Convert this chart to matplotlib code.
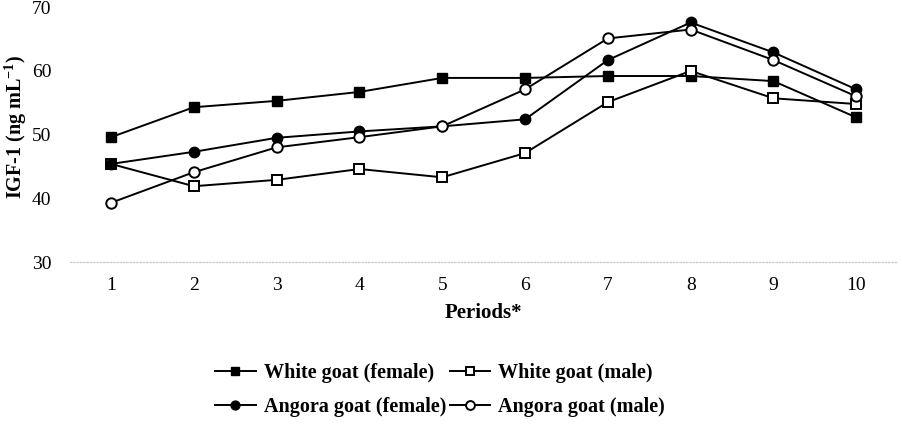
import matplotlib
matplotlib.use("Agg")
import matplotlib.pyplot as plt

periods = [1, 2, 3, 4, 5, 6, 7, 8, 9, 10]
white_female = [49.6, 54.3, 55.3, 56.7, 58.9, 58.9, 59.2, 59.2, 58.4, 52.7]
white_male = [45.4, 41.9, 42.9, 44.6, 43.3, 47.1, 55.1, 60.0, 55.7, 54.8]
angora_female = [45.4, 47.3, 49.5, 50.5, 51.3, 52.4, 61.7, 67.6, 62.9, 57.1]
angora_male = [39.3, 44.1, 48.0, 49.6, 51.3, 57.1, 65.1, 66.5, 61.7, 56.0]
labels = ["White goat (female)", "White goat (male)", "Angora goat (female)", "Angora goat (male)"]
yticks = [30, 40, 50, 60, 70]

plt.rcParams['font.family'] = ['Liberation Serif', 'DejaVu Serif']
plt.rcParams['mathtext.fontset'] = 'custom'
plt.rcParams['mathtext.rm'] = 'Liberation Serif:bold'
plt.rcParams['mathtext.bf'] = 'Liberation Serif:bold'

fig = plt.figure(figsize=(9.04, 4.24), dpi=100)
ax = fig.add_axes([0.077, 0.382, 0.916, 0.601])

lw = 1.4
ms = 7.5
h1, = ax.plot(periods, white_female, color='black', lw=lw, marker='s', ms=ms, mfc='black', mec='black', label=labels[0], zorder=3)
h2, = ax.plot(periods, white_male, color='black', lw=lw, marker='s', ms=ms, mfc='white', mec='black', mew=1.4, label=labels[1], zorder=3)
h3, = ax.plot(periods, angora_female, color='black', lw=lw, marker='o', ms=ms, mfc='black', mec='black', label=labels[2], zorder=3)
h4, = ax.plot(periods, angora_male, color='black', lw=lw, marker='o', ms=ms, mfc='white', mec='black', mew=1.4, label=labels[3], zorder=3)

ax.set_xlim(0.5, 10.5)
ax.set_ylim(30, 70)
ax.set_xticks(periods)
ax.set_yticks(yticks)
ax.tick_params(axis='both', length=0, labelsize=14)
ax.tick_params(axis='y', pad=13)
ax.tick_params(axis='x', pad=11)
for s in ['top', 'right', 'left']:
    ax.spines[s].set_visible(False)
ax.spines['bottom'].set_color('#c8c8c8')
ax.spines['bottom'].set_linestyle(':')
ax.spines['bottom'].set_linewidth(0.9)

ax.set_xlabel("Periods*", fontsize=15, fontweight='bold', labelpad=6)
ax.set_ylabel("IGF-1 (ng mL$^{\\mathrm{-1}}$)", fontsize=14.5, fontweight='bold')
ax.yaxis.set_label_coords(-0.049, 0.53)

leg = fig.legend([h1, h3, h2, h4], [labels[0], labels[2], labels[1], labels[3]],
                 loc='center', bbox_to_anchor=(0.487, 0.081), ncol=2, frameon=False,
                 prop={'family': 'Liberation Serif', 'weight': 'bold', 'size': 14.5},
                 handlelength=2.0, handletextpad=0.4, columnspacing=0.2, labelspacing=0.7,
                 markerscale=0.85, borderpad=0.2)

fig.savefig("out.png", dpi=100)
